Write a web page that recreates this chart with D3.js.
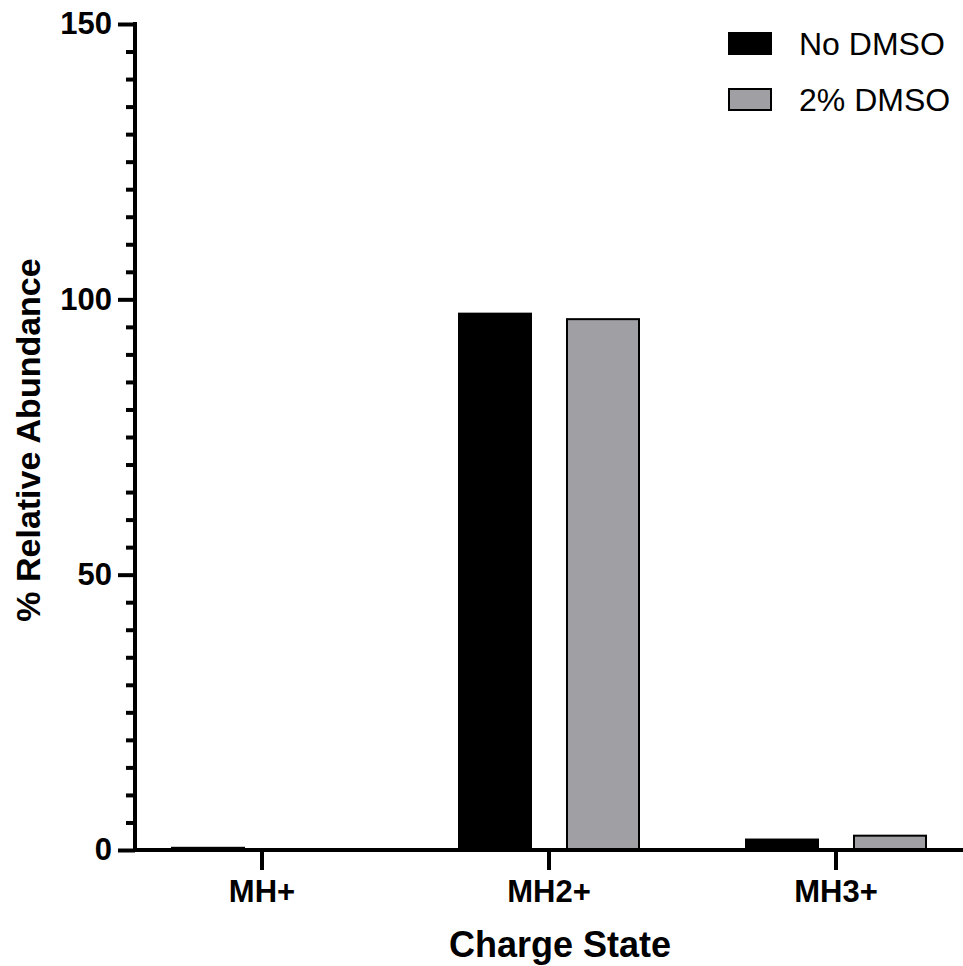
<!DOCTYPE html>
<html>
<head>
<meta charset="utf-8">
<title>Charge State</title>
<style>
  body { margin: 0; background: #fff; }
  svg { font-family: "Liberation Sans", Arial, sans-serif; }
</style>
</head>
<body>
<script src="https://cdn.jsdelivr.net/npm/d3@7"></script>
<script>
// data
const categories = ["MH+", "MH2+", "MH3+"];
const seriesNames = ["No DMSO", "2% DMSO"];
const noDmso = [0.4, 97.4, 1.9];
const dmso2 = [0.1, 96.4, 2.6];
const yMajorTicks = [0, 50, 100, 150];
const yMinorTicks = d3.range(0, 151, 5).filter(v => v % 50 !== 0);

const colors = ["#000000", "#a09fa4"];

const w = 963, h = 966;
const svg = d3.select("body").append("svg")
  .attr("width", w).attr("height", h);

const y = d3.scaleLinear().domain([0, 150]).range([850, 24]);
const x = d3.scaleBand().domain(categories).range([118.5, 979.5]).padding(0);
const xs = d3.scaleBand().domain(seriesNames).range([53.5, 233.5]).paddingInner(1/3).paddingOuter(0);

const rows = categories.map((c, i) => ({cat: c, vals: [noDmso[i], dmso2[i]]}));

// bars
const groups = svg.selectAll("g.grp").data(rows).enter().append("g")
  .attr("transform", d => `translate(${x(d.cat)},0)`);
groups.selectAll("rect").data(d => d.vals.map((v, j) => ({v, s: seriesNames[j], j})))
  .enter().append("rect")
  .attr("x", d => xs(d.s))
  .attr("width", xs.bandwidth())
  .attr("y", d => y(d.v))
  .attr("height", d => y(0) - y(d.v))
  .attr("fill", d => colors[d.j])
  .attr("stroke", "#000")
  .attr("stroke-width", 2);

// y axis minor ticks
const yMinor = svg.append("g").attr("transform", "translate(135,0)")
  .call(d3.axisLeft(y).tickValues(yMinorTicks).tickSize(9).tickFormat(""));
yMinor.select(".domain").remove();
yMinor.selectAll("line").attr("stroke-width", 4);

// y axis major
const yAx = svg.append("g").attr("transform", "translate(135,0)")
  .call(d3.axisLeft(y).tickValues(yMajorTicks).tickSize(17).tickSizeOuter(0).tickPadding(6));
yAx.select(".domain").remove();
yAx.selectAll("line").attr("stroke-width", 4);
yAx.selectAll("text").attr("font-size", 31).attr("font-weight", "bold")
  .attr("font-family", "Liberation Sans, Arial, sans-serif").attr("fill", "#000");
svg.append("line").attr("x1", 135).attr("x2", 135)
  .attr("y1", y(150) - 2).attr("y2", y(0) + 2)
  .attr("stroke", "#000").attr("stroke-width", 4);

// x axis
const xAx = svg.append("g").attr("transform", `translate(0,${y(0)})`)
  .call(d3.axisBottom(x).tickSize(20).tickPadding(10));
xAx.select(".domain").remove();
xAx.selectAll("line").attr("stroke-width", 4);
xAx.selectAll("text").attr("font-size", 31).attr("font-weight", "bold")
  .attr("font-family", "Liberation Sans, Arial, sans-serif").attr("fill", "#000");
svg.append("line").attr("x1", 133).attr("x2", w)
  .attr("y1", y(0)).attr("y2", y(0))
  .attr("stroke", "#000").attr("stroke-width", 4);

// axis titles
svg.append("text").attr("x", 560).attr("y", 957)
  .attr("text-anchor", "middle").attr("font-size", 36).attr("font-weight", "bold")
  .text("Charge State");
svg.append("text").attr("transform", "translate(40,440) rotate(-90)")
  .attr("text-anchor", "middle").attr("font-size", 34).attr("font-weight", "bold")
  .text("% Relative Abundance");

// legend
const leg = svg.append("g").attr("transform", "translate(729,0)");
seriesNames.forEach((s, i) => {
  const yy = 33 + i * 56;
  leg.append("rect").attr("x", 0).attr("y", yy).attr("width", 42).attr("height", 21)
    .attr("fill", colors[i]).attr("stroke", "#000").attr("stroke-width", 2);
  leg.append("text").attr("x", 70).attr("y", yy + 22)
    .attr("font-size", 32).text(s);
});
</script>
</body>
</html>
